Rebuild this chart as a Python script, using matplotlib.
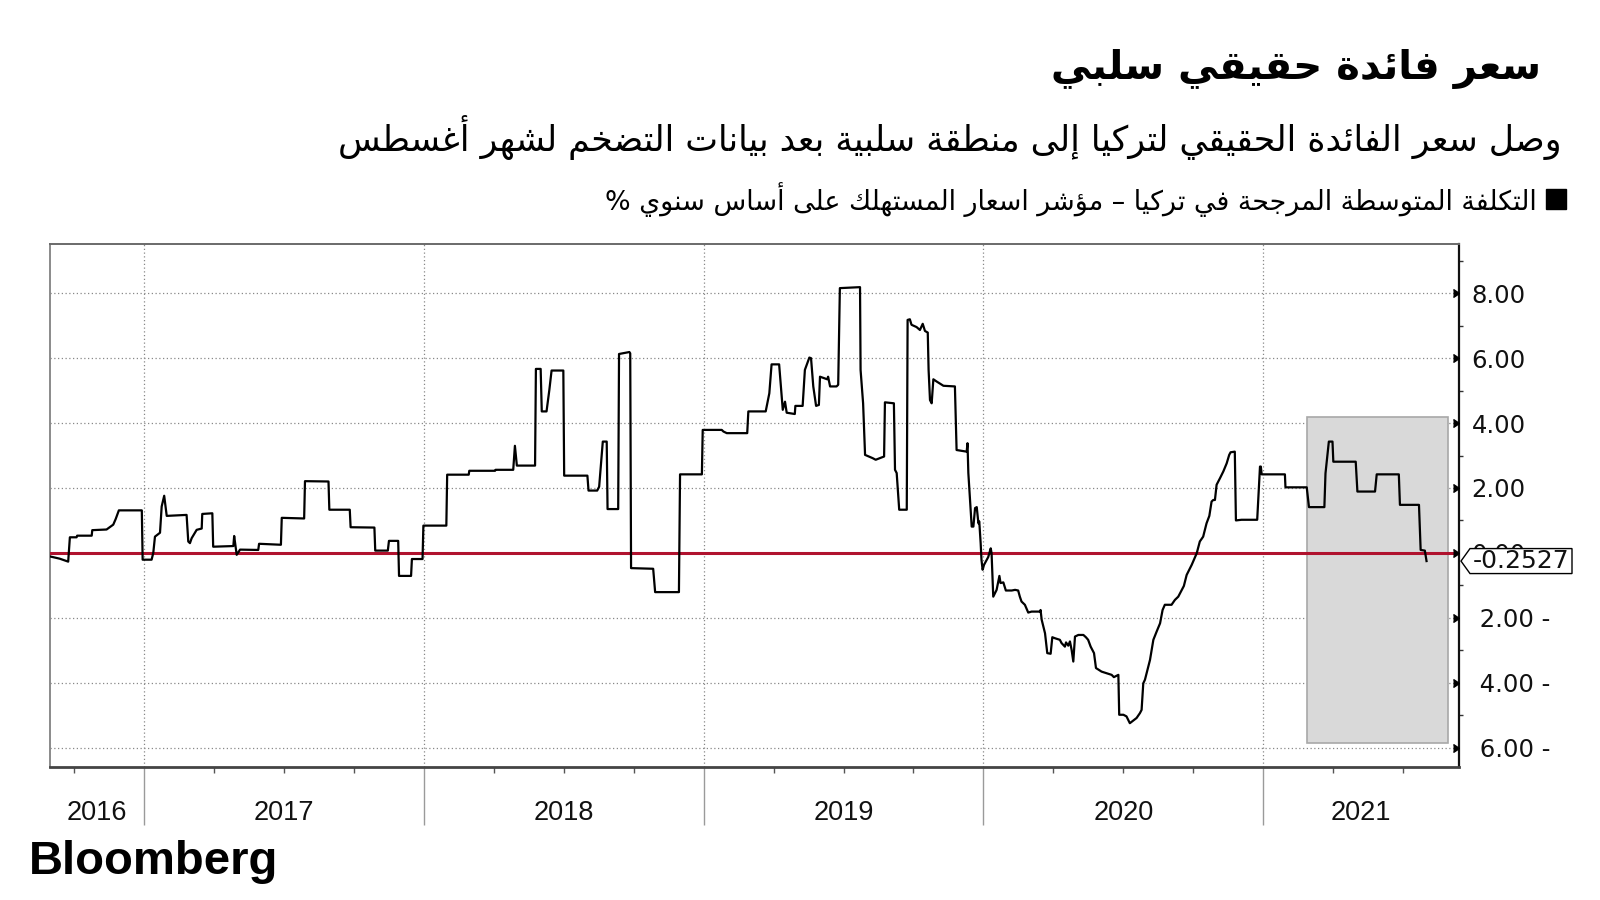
import matplotlib
matplotlib.use("Agg")
import matplotlib.pyplot as plt
import matplotlib.transforms as mtransforms
from matplotlib.patches import Rectangle, Polygon

plt.rcParams['font.family'] = ['DejaVu Sans']

title = "سعر فائدة حقيقي سلبي"
subtitle = "وصل سعر الفائدة الحقيقي لتركيا إلى منطقة سلبية بعد بيانات التضخم لشهر أغسطس"
series_label = "التكلفة المتوسطة المرجحة في تركيا – مؤشر اسعار المستهلك على أساس سنوي %"
source = "Bloomberg"

years = [
    2016.665, 2016.700, 2016.730, 2016.736, 2016.760, 2016.762, 2016.814, 2016.816, 2016.867, 2016.880,
    2016.891, 2016.900, 2016.911, 2016.993, 2016.996, 2017.028, 2017.034, 2017.040, 2017.058, 2017.064,
    2017.073, 2017.082, 2017.153, 2017.159, 2017.165, 2017.171, 2017.189, 2017.207, 2017.209, 2017.245,
    2017.248, 2017.320, 2017.323, 2017.328, 2017.332, 2017.344, 2017.409, 2017.412, 2017.490, 2017.493,
    2017.573, 2017.576, 2017.660, 2017.663, 2017.736, 2017.739, 2017.824, 2017.827, 2017.872, 2017.876,
    2017.909, 2017.912, 2017.955, 2017.958, 2017.996, 2017.999, 2018.081, 2018.084, 2018.161, 2018.163,
    2018.255, 2018.257, 2018.320, 2018.326, 2018.333, 2018.398, 2018.401, 2018.418, 2018.422, 2018.439,
    2018.449, 2018.457, 2018.499, 2018.502, 2018.585, 2018.589, 2018.620, 2018.627, 2018.640, 2018.654,
    2018.657, 2018.695, 2018.698, 2018.735, 2018.738, 2018.741, 2018.820, 2018.827, 2018.912, 2018.916,
    2018.994, 2018.997, 2019.065, 2019.071, 2019.083, 2019.156, 2019.160, 2019.222, 2019.235, 2019.243,
    2019.270, 2019.283, 2019.291, 2019.297, 2019.326, 2019.328, 2019.354, 2019.362, 2019.378, 2019.384,
    2019.392, 2019.402, 2019.412, 2019.416, 2019.442, 2019.445, 2019.452, 2019.475, 2019.481, 2019.487,
    2019.559, 2019.561, 2019.570, 2019.577, 2019.604, 2019.615, 2019.630, 2019.645, 2019.648, 2019.680,
    2019.684, 2019.690, 2019.699, 2019.726, 2019.729, 2019.737, 2019.743, 2019.761, 2019.773, 2019.783,
    2019.791, 2019.801, 2019.804, 2019.809, 2019.815, 2019.821, 2019.833, 2019.857, 2019.898, 2019.904,
    2019.940, 2019.943, 2019.946, 2019.958, 2019.964, 2019.970, 2019.976, 2019.982, 2019.985, 2019.990,
    2019.993, 2019.997, 2020.002, 2020.017, 2020.026, 2020.029, 2020.035, 2020.047, 2020.057, 2020.061,
    2020.071, 2020.080, 2020.101, 2020.113, 2020.124, 2020.130, 2020.136, 2020.148, 2020.160, 2020.172,
    2020.202, 2020.204, 2020.208, 2020.220, 2020.228, 2020.240, 2020.246, 2020.255, 2020.273, 2020.279,
    2020.291, 2020.295, 2020.303, 2020.309, 2020.315, 2020.321, 2020.327, 2020.339, 2020.357, 2020.366,
    2020.374, 2020.383, 2020.395, 2020.402, 2020.422, 2020.440, 2020.458, 2020.466, 2020.482, 2020.485,
    2020.500, 2020.511, 2020.523, 2020.535, 2020.547, 2020.559, 2020.565, 2020.571, 2020.577, 2020.583,
    2020.595, 2020.607, 2020.619, 2020.631, 2020.640, 2020.648, 2020.672, 2020.684, 2020.696, 2020.704,
    2020.716, 2020.726, 2020.744, 2020.762, 2020.773, 2020.785, 2020.797, 2020.807, 2020.815, 2020.821,
    2020.827, 2020.833, 2020.845, 2020.857, 2020.869, 2020.878, 2020.883, 2020.898, 2020.902, 2020.922,
    2020.978, 2020.988, 2020.991, 2020.994, 2021.077, 2021.079, 2021.155, 2021.163, 2021.218, 2021.222,
    2021.234, 2021.247, 2021.250, 2021.330, 2021.336, 2021.399, 2021.405, 2021.484, 2021.488, 2021.556,
    2021.562, 2021.577, 2021.583,
]
values = [
    -0.11, -0.18, -0.27, 0.48, 0.48, 0.53, 0.53, 0.70, 0.72, 0.80,
    0.87, 1.05, 1.31, 1.31, -0.21, -0.21, 0.00, 0.50, 0.62, 1.43,
    1.76, 1.14, 1.17, 0.35, 0.30, 0.45, 0.71, 0.75, 1.20, 1.22,
    0.19, 0.21, 0.52, 0.19, -0.06, 0.10, 0.09, 0.28, 0.25, 1.08,
    1.06, 2.21, 2.20, 1.33, 1.33, 0.79, 0.78, 0.07, 0.07, 0.37,
    0.37, -0.71, -0.71, -0.19, -0.19, 0.84, 0.84, 2.41, 2.41, 2.53,
    2.53, 2.56, 2.56, 3.30, 2.69, 2.69, 5.67, 5.67, 4.36, 4.36,
    5.02, 5.62, 5.62, 2.38, 2.38, 1.92, 1.92, 2.04, 3.43, 3.43,
    1.35, 1.35, 6.13, 6.19, 6.15, -0.47, -0.49, -1.21, -1.21, 2.42,
    2.42, 3.79, 3.79, 3.74, 3.69, 3.69, 4.36, 4.36, 4.92, 5.81,
    5.81, 4.41, 4.66, 4.32, 4.28, 4.53, 4.53, 5.64, 6.02, 6.00,
    5.13, 4.53, 4.56, 5.43, 5.35, 5.43, 5.13, 5.13, 5.18, 8.16,
    8.19, 5.64, 4.61, 3.02, 2.92, 2.87, 2.92, 2.97, 4.64, 4.61,
    2.56, 2.46, 1.33, 1.33, 7.18, 7.20, 7.03, 6.96, 6.87, 7.06,
    6.84, 6.79, 5.64, 4.71, 4.61, 5.35, 5.28, 5.15, 5.13, 3.17,
    3.12, 3.38, 2.46, 0.81, 0.81, 1.38, 1.41, 0.91, 0.97, 0.30,
    -0.22, -0.52, -0.37, -0.13, 0.14, -0.01, -1.35, -1.14, -0.71, -0.93,
    -0.91, -1.16, -1.16, -1.14, -1.16, -1.35, -1.50, -1.60, -1.84, -1.81,
    -1.81, -1.76, -2.06, -2.48, -3.09, -3.11, -2.60, -2.63, -2.68, -2.78,
    -2.89, -2.76, -2.86, -2.73, -2.99, -3.35, -2.58, -2.53, -2.53, -2.60,
    -2.68, -2.89, -3.09, -3.55, -3.66, -3.71, -3.76, -3.83, -3.76, -4.99,
    -4.99, -5.04, -5.25, -5.17, -5.09, -4.94, -4.84, -4.02, -3.91, -3.71,
    -3.30, -2.68, -2.42, -2.17, -1.76, -1.60, -1.60, -1.45, -1.35, -1.22,
    -1.02, -0.68, -0.37, -0.01, 0.35, 0.50, 0.91, 1.14, 1.58, 1.63,
    1.63, 2.10, 2.30, 2.51, 2.76, 3.02, 3.10, 3.12, 1.00, 1.02,
    1.02, 2.66, 2.66, 2.42, 2.42, 2.02, 2.02, 1.41, 1.41, 2.45,
    3.43, 3.43, 2.81, 2.81, 1.89, 1.89, 2.42, 2.42, 1.48, 1.48,
    0.09, 0.07, -0.2527,
]

year_labels = ["2016", "2017", "2018", "2019", "2020", "2021"]
y_ticks = [-6, -4, -2, 0, 2, 4, 6, 8]
y_tick_labels = [" 6.00 -", " 4.00 -", " 2.00 -", "0.00", "2.00", "4.00", "6.00", "8.00"]
x_min, x_max = 2016.665, 2021.699
y_min, y_max = -6.6, 9.52
# shaded box over 2021
shade_x = (2021.156, 2021.659)
shade_y = (-5.87, 4.2)


# --- minimal Arabic shaping (matplotlib has no RTL / joining support) ---
FORMS = {'\u0621': (0xFE80, 1)}
_code = 0xFE81
for _c in list(range(0x0622, 0x063B)) + list(range(0x0641, 0x064B)):
    _n = 2 if chr(_c) in "آأؤإاةدذرزوى" else 4
    FORMS[chr(_c)] = (_code, _n)
    _code += _n
LAM_ALEF = {'آ': 0xFEF5, 'أ': 0xFEF7, 'إ': 0xFEF9, 'ا': 0xFEFB}


def shape_arabic(text):
    tokens = []
    i = 0
    while i < len(text):
        ch = text[i]
        if ch == 'ل' and i + 1 < len(text) and text[i + 1] in LAM_ALEF:
            tokens.append((LAM_ALEF[text[i + 1]], 2))
            i += 2
            continue
        tokens.append(FORMS.get(ch, ch))
        i += 1
    out = []
    for k, tok in enumerate(tokens):
        if isinstance(tok, str):
            out.append(tok)
            continue
        base, n = tok
        prev = tokens[k - 1] if k > 0 else None
        nxt = tokens[k + 1] if k + 1 < len(tokens) else None
        join_prev = isinstance(prev, tuple) and prev[1] == 4
        join_next = n == 4 and isinstance(nxt, tuple)
        if n == 1:
            form = base
        elif join_prev and join_next:
            form = base + 3
        elif join_prev:
            form = base + 1
        elif join_next:
            form = base + 2
        else:
            form = base
        out.append(chr(form))
    return ''.join(reversed(out))


fig = plt.figure(figsize=(16, 9), dpi=100)
ax = fig.add_axes([50 / 1600, 1 - 767 / 900, 1409 / 1600, 523 / 900])

ax.add_patch(Rectangle((shade_x[0], shade_y[0]), shade_x[1] - shade_x[0], shade_y[1] - shade_y[0],
                       facecolor='#d9d9d9', edgecolor='#a8a8a8', lw=1.2, zorder=1))
ax.axhline(0, color='#b0122e', lw=2.2, zorder=3)
ax.plot(years, values, color='black', lw=1.6, zorder=4)

ax.set_xlim(x_min, x_max)
ax.set_ylim(y_min, y_max)

# grid
for yv in y_ticks:
    ax.axhline(yv, color='#888888', lw=0.9, ls=(0, (1, 2)), zorder=0.5)
year_starts = list(range(2017, 2022))
for xv in year_starts:
    ax.axvline(xv, color='#888888', lw=0.9, ls=(0, (1, 2)), zorder=0.5)

# x axis: long separators at year starts, small ticks at quarters
ax.set_xticks(year_starts)
ax.set_xticklabels([])
ax.set_xticks([y + q for y in range(2016, 2022) for q in (0.25, 0.5, 0.75)
               if x_min < y + q < x_max], minor=True)
ax.tick_params(axis='x', which='major', length=42, width=1, color='#9a9a9a', direction='out')
ax.tick_params(axis='x', which='minor', length=4, width=1, color='#555555', direction='out')

trans_x = mtransforms.blended_transform_factory(ax.transData, ax.transAxes)
for lab in year_labels:
    y0 = max(int(lab), x_min)
    y1 = min(int(lab) + 1, x_max)
    ax.text((y0 + y1) / 2, -0.087, lab, transform=trans_x, ha='center', va='center',
            fontsize=19.5, family='Liberation Sans', color='#111111')

# y axis on the right
ax.yaxis.tick_right()
ax.set_yticks(y_ticks)
ax.set_yticklabels(y_tick_labels, fontsize=17.5, color='#111111')
ax.set_yticks([v for v in range(-6, 10) if v % 2], minor=True)
ax.tick_params(axis='y', which='major', length=0, pad=9)
ax.tick_params(axis='y', which='minor', length=3, width=1, color='#333333', direction='out')
trans_y = mtransforms.blended_transform_factory(ax.transAxes, ax.transData)
ax.plot([1.0] * len(y_ticks), y_ticks, marker=5, ms=6, ls='none', color='black',
        transform=trans_y, clip_on=False, zorder=5)

for side, col, lw in [('left', '#8a8a8a', 1.4), ('top', '#6a6a6a', 1.4),
                      ('right', '#111111', 1.6), ('bottom', '#444444', 2.0)]:
    ax.spines[side].set_color(col)
    ax.spines[side].set_linewidth(lw)

# last value tag
last = values[-1]
px = 1 / 1409
h = 12.5 / 32.45
tag = Polygon([(1 + 2 * px, last), (1 + 11 * px, last + h), (1 + 113 * px, last + h),
               (1 + 113 * px, last - h), (1 + 11 * px, last - h)], closed=True,
              facecolor='white', edgecolor='black', lw=1, transform=trans_y, clip_on=False, zorder=10)
ax.add_patch(tag)
ax.text(1 + 14 * px, last, f"{last:.4f}", transform=trans_y, ha='left', va='center',
        fontsize=18, color='#111111', zorder=11, clip_on=False)

# titles
fig.text(1541 / 1600, 1 - 69 / 900, shape_arabic(title), ha='right', va='center',
         fontsize=29, fontweight='bold', color='black')
fig.text(1562 / 1600, 1 - 138 / 900, shape_arabic(subtitle), ha='right', va='center',
         fontsize=25, color='black')
fig.patches.append(Rectangle((1546 / 1600, 1 - 209 / 900), 20 / 1600, 20 / 900,
                             transform=fig.transFigure, color='black'))
fig.text(1537 / 1600, 1 - 200 / 900, shape_arabic(series_label), ha='right', va='center',
         fontsize=19.4, color='black')
fig.text(29 / 1600, 1 - 862 / 900, source, ha='left', va='center', fontsize=34,
         fontweight='bold', family='Liberation Sans', color='black')

fig.savefig('out.png', dpi=100)
